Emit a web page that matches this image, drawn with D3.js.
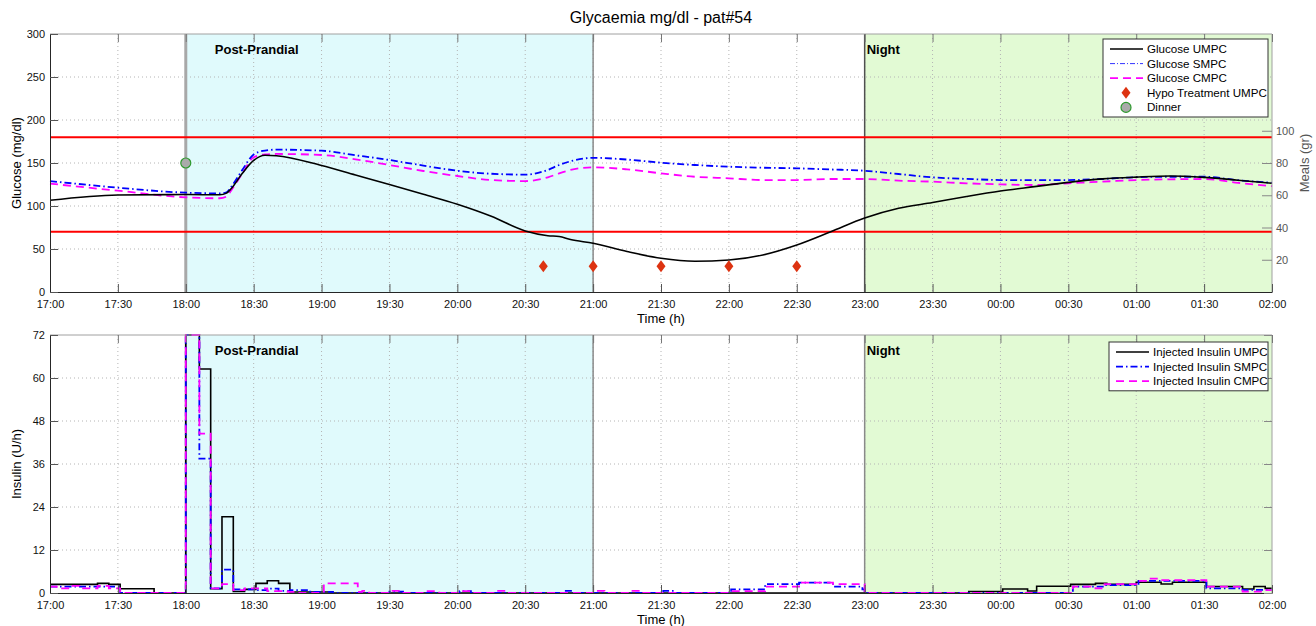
<!DOCTYPE html>
<html>
<head>
<meta charset="utf-8">
<script src="https://cdn.jsdelivr.net/npm/d3@7"></script>
<style>
  body { margin: 0; background: #fff; }
  text { font-family: Arial, "Liberation Sans", sans-serif; }
</style>
</head>
<body>
<div id="chart"></div>

<script type="text/javascript">
// minutes after 17:00
var tickMinutes = [0, 30, 60, 90, 120, 150, 180, 210, 240, 270, 300, 330, 360, 390, 420, 450, 480, 510, 540];
var tickLabels = ["17:00","17:30","18:00","18:30","19:00","19:30","20:00","20:30","21:00","21:30",
                  "22:00","22:30","23:00","23:30","00:00","00:30","01:00","01:30","02:00"];

var glucoseTicks = [0, 50, 100, 150, 200, 250, 300];
var mealTicks = [20, 40, 60, 80, 100];
var insulinTicks = [0, 12, 24, 36, 48, 60, 72];

// glucose curves (mg/dl)
var glucoseTime = [0,30,60,75,78,80,85,90,95,100,120,135,150,165,180,195,210,220,225,230,240,255,270,285,300,315,330,345,360,375,390,405,420,435,450,465,480,495,510,525,540];
var glucoseUMPC = [106.6,112.8,113.3,113,115,120,138,153,159,158.5,147,136,125,113.6,102,88,71,65.5,64.5,61,56.6,47,39.2,35.7,37.2,43,54.6,70,86,97.3,104,111,117.4,122.5,127.5,131.5,133.6,134.9,133.3,130,126.4];
var glucoseSMPC = [129,121.3,115.5,114.7,116,122,142,160,164.5,165.5,164.3,159,153.5,147,141,137.5,136.5,142,147.7,152,156,154,150.4,147.7,145.7,144.5,143.8,142.5,141,137.2,133.3,131.5,130.2,130,130.2,131.4,133.5,134,134,130,127];
var glucoseCMPC = [126,117.8,110,109,111,117.8,138,156.6,160,160.5,159.3,154.3,147.7,140.7,134.9,130.2,129,133.3,138,141.9,145,142.6,138,134,132.2,130.2,130.2,131.4,131.4,129.5,128.3,126.4,125.2,124.4,126.4,128.3,130.2,131,131.4,127,123];

// meals (gr)
var dinnerTime = [60];
var dinnerGrams = [80];
var hypoTime = [218, 240, 270, 300, 330];
var hypoGrams = [16, 16, 16, 16, 16];

// injected insulin (U/h), step changes
var insulinTimeUMPC = [0,21,26,31,46,60,66,71,76,81,86,91,96,101,106,125,406,421,432,436,451,462,467,480,491,496,511,527,532,537,540];
var insulinUMPC     = [2.4,2.7,2.4,1.2,0,72,62.5,1.2,21.3,0.4,1.0,2.7,3.4,2.7,0.3,0,0.4,1.1,0.55,1.9,2.4,2.7,2.4,3.0,2.5,3.0,1.8,1.1,1.8,1.3,1.3];
var insulinTimeSMPC = [0,31,60,66,71,76,81,91,96,101,106,115,125,150,156,181,186,227,231,271,276,301,316,331,346,359,360,452,466,481,511,527,540];
var insulinSMPC     = [1.8,0,72,37.5,1.3,6.5,1.0,0.8,1.2,0.6,0.8,0.3,0,0.4,0,0.5,0,0.6,0,0.6,0,1.0,2.5,2.9,1.8,1.0,0,1.8,2.2,3.4,1.3,0.9,0.9];
var insulinTimeCMPC = [0,3,10,13,21,26,31,60,66,71,76,81,86,96,105,110,121,136,138,141,150,156,166,172,181,186,196,202,241,245,256,262,301,316,331,346,360,452,462,466,481,485,490,511,527,537,540];
var insulinCMPC     = [1.8,1.3,2.0,1.3,2.0,1.3,0,72,44.5,1.3,2.5,0.8,1.3,0.5,0.3,0,2.7,0.3,0.6,0,0.6,0,0.5,0,0.5,0,0.6,0,0.6,0,0.6,0,0.5,1.8,2.9,2.5,0,1.8,1.3,2.5,3.4,4.0,3.6,1.8,0.4,0.8,0.8];

var periods = [
  { name: "Post-Prandial", start: 60, end: 240, fill: "#e0fafc" },
  { name: "Night", start: 360, end: 540, fill: "#e2fad4" }
];

var svg = d3.select("#chart").append("svg")
  .attr("width", 1316)
  .attr("height", 626);

var left = 50, right = 1272;
var x = d3.scaleLinear().domain([0, 540]).range([left, right]);

var top1 = 34, bottom1 = 292;
var top2 = 335, bottom2 = 593;
var yGlucose = d3.scaleLinear().domain([0, 300]).range([bottom1, top1]);
var yMeals = d3.scaleLinear().domain([0, 160]).range([bottom1, top1]);
var yInsulin = d3.scaleLinear().domain([0, 72]).range([bottom2, top2]);

function zip(t, v) {
  return t.map(function (d, i) { return [d, v[i]]; });
}

function drawFrame(g, top, bottom, yScale, yTicks, vlines) {
  // shaded periods
  periods.forEach(function (p) {
    g.append("rect")
      .attr("x", x(p.start)).attr("y", top)
      .attr("width", x(p.end) - x(p.start)).attr("height", bottom - top)
      .attr("fill", p.fill);
  });

  // dotted grid
  g.selectAll(".vgrid").data(tickMinutes.slice(1, -1)).enter().append("line")
    .attr("x1", function (d) { return x(d); }).attr("x2", function (d) { return x(d); })
    .attr("y1", top).attr("y2", bottom)
    .attr("stroke", "#b4b4b4").attr("stroke-dasharray", "1,3");
  g.selectAll(".hgrid").data(yTicks.slice(1, -1)).enter().append("line")
    .attr("x1", left).attr("x2", right)
    .attr("y1", function (d) { return yScale(d); }).attr("y2", function (d) { return yScale(d); })
    .attr("stroke", "#b4b4b4").attr("stroke-dasharray", "1,3");

  // period borders
  vlines.forEach(function (v) {
    g.append("line")
      .attr("x1", x(v.t)).attr("x2", x(v.t))
      .attr("y1", top).attr("y2", bottom)
      .attr("stroke", v.color).attr("stroke-width", v.width);
  });

  // period names
  g.append("text").attr("x", x(60) + 29).attr("y", top + 20)
    .style("font-size", "13px").style("font-weight", "bold").text("Post-Prandial");
  g.append("text").attr("x", x(360) + 2).attr("y", top + 20)
    .style("font-size", "13px").style("font-weight", "bold").text("Night");
}

function drawAxes(g, top, bottom, yScale, yTicks, yLabel) {
  // box
  g.append("line").attr("x1", left).attr("x2", right).attr("y1", top).attr("y2", top)
    .attr("stroke", "#a0a0a0");
  g.append("line").attr("x1", right).attr("x2", right).attr("y1", top).attr("y2", bottom)
    .attr("stroke", "#a0a0a0");

  var xb = g.append("g").attr("transform", "translate(0," + bottom + ")")
    .call(d3.axisBottom(x).tickValues(tickMinutes)
      .tickFormat(function (d, i) { return tickLabels[i]; })
      .tickSizeInner(-8).tickSizeOuter(0).tickPadding(8));
  var xt = g.append("g").attr("transform", "translate(0," + top + ")")
    .call(d3.axisTop(x).tickValues(tickMinutes).tickFormat("")
      .tickSizeInner(-8).tickSizeOuter(0));
  var yl = g.append("g").attr("transform", "translate(" + left + ",0)")
    .call(d3.axisLeft(yScale).tickValues(yTicks).tickSizeInner(-8).tickSizeOuter(0).tickPadding(5));

  [xb, yl].forEach(function (a) {
    a.select(".domain").attr("stroke", "#262626");
    a.selectAll(".tick line").attr("stroke", "#555");
    a.selectAll("text").style("font-size", "11px").attr("fill", "#111");
  });
  xt.select(".domain").remove();
  xt.selectAll(".tick line").attr("stroke", "#777");

  g.append("text")
    .attr("x", (left + right) / 2).attr("y", bottom + 31)
    .attr("text-anchor", "middle").style("font-size", "13px").text("Time (h)");
  g.append("text")
    .attr("transform", "translate(21," + ((top + bottom) / 2) + ") rotate(-90)")
    .attr("text-anchor", "middle").style("font-size", "13px").text(yLabel);
}

function drawLegend(g, x0, y0, w, entries) {
  g.append("rect").attr("x", x0).attr("y", y0).attr("width", w)
    .attr("height", entries.length * 14.6 + 5)
    .attr("fill", "#fff").attr("stroke", "#333").attr("stroke-width", 1);
  entries.forEach(function (e, i) {
    var cy = y0 + 10 + i * 14.6;
    if (e.line) {
      g.append("line").attr("x1", x0 + 7).attr("x2", x0 + 40)
        .attr("y1", cy).attr("y2", cy)
        .attr("stroke", e.color).attr("stroke-width", e.width)
        .attr("stroke-dasharray", e.dash);
    } else if (e.marker === "diamond") {
      g.append("path").attr("transform", "translate(" + (x0 + 23) + "," + cy + ")")
        .attr("d", "M0,-6L4.5,0L0,6L-4.5,0Z").attr("fill", "#dd3311");
    } else {
      g.append("circle").attr("cx", x0 + 23).attr("cy", cy).attr("r", 5)
        .attr("fill", "#aaa").attr("stroke", "#2e9a2e").attr("stroke-width", 1.2);
    }
    g.append("text").attr("x", x0 + 44).attr("y", cy + 4)
      .style("font-size", "11.6px").text(e.label);
  });
}

var styles = {
  U: { color: "#000", width: 1.6, dash: null },
  S: { color: "#0000ff", width: 1.8, dash: "7,3,1.5,3" },
  C: { color: "#ff00ff", width: 1.8, dash: "8,5" }
};

// ---------- top: glucose ----------
var g1 = svg.append("g");
drawFrame(g1, top1, bottom1, yGlucose, glucoseTicks, [
  { t: 60, color: "#a8a8a8", width: 3 },
  { t: 240, color: "#8a8a8a", width: 1.5 },
  { t: 360, color: "#505050", width: 1.5 }
]);

[180, 70].forEach(function (lim) {
  g1.append("line").attr("x1", left).attr("x2", right)
    .attr("y1", yGlucose(lim)).attr("y2", yGlucose(lim))
    .attr("stroke", "#ff0000").attr("stroke-width", 2);
});

var glucoseLine = d3.line()
  .x(function (d) { return x(d[0]); })
  .y(function (d) { return yGlucose(d[1]); })
  .curve(d3.curveMonotoneX);

[["C", glucoseCMPC], ["S", glucoseSMPC], ["U", glucoseUMPC]].forEach(function (s) {
  var st = styles[s[0]];
  g1.append("path").datum(zip(glucoseTime, s[1]))
    .attr("d", glucoseLine).attr("fill", "none")
    .attr("stroke", st.color).attr("stroke-width", st.width)
    .attr("stroke-dasharray", st.dash);
});

g1.selectAll(".hypo").data(zip(hypoTime, hypoGrams)).enter().append("path")
  .attr("transform", function (d) { return "translate(" + x(d[0]) + "," + yMeals(d[1]) + ")"; })
  .attr("d", "M0,-6L4.5,0L0,6L-4.5,0Z").attr("fill", "#dd3311");
g1.selectAll(".dinner").data(zip(dinnerTime, dinnerGrams)).enter().append("circle")
  .attr("cx", function (d) { return x(d[0]); }).attr("cy", function (d) { return yMeals(d[1]); })
  .attr("r", 5).attr("fill", "#aaa").attr("stroke", "#2e9a2e").attr("stroke-width", 1.2);

drawAxes(g1, top1, bottom1, yGlucose, glucoseTicks, "Glucose (mg/dl)");

// right axis: meals
var yr = g1.append("g").attr("transform", "translate(" + right + ",0)")
  .call(d3.axisRight(yMeals).tickValues(mealTicks).tickSizeInner(-10).tickSizeOuter(0).tickPadding(4));
yr.select(".domain").remove();
yr.selectAll(".tick line").attr("stroke", "#888");
yr.selectAll("text").style("font-size", "11px").attr("fill", "#555");
g1.append("text")
  .attr("transform", "translate(1309," + yMeals(80) + ") rotate(-90)")
  .attr("text-anchor", "middle").style("font-size", "13px").attr("fill", "#555").text("Meals (gr)");

g1.append("text").attr("x", (left + right) / 2).attr("y", 23)
  .attr("text-anchor", "middle").style("font-size", "16px").text("Glycaemia mg/dl - pat#54");

drawLegend(g1, 1103, 39, 165, [
  { line: true, color: "#000", width: 1.6, dash: null, label: "Glucose UMPC" },
  { line: true, color: "#3333ff", width: 1, dash: "5,2,1,2", label: "Glucose SMPC" },
  { line: true, color: "#ff00ff", width: 1.8, dash: "8,5", label: "Glucose CMPC" },
  { marker: "diamond", label: "Hypo Treatment UMPC" },
  { marker: "circle", label: "Dinner" }
]);

// ---------- bottom: insulin ----------
var g2 = svg.append("g");
drawFrame(g2, top2, bottom2, yInsulin, insulinTicks, [
  { t: 60, color: "#a8a8a8", width: 2 },
  { t: 240, color: "#8a8a8a", width: 1.5 },
  { t: 360, color: "#8a8a8a", width: 1.5 }
]);

var insulinLine = d3.line()
  .x(function (d) { return x(d[0]); })
  .y(function (d) { return yInsulin(d[1]); })
  .curve(d3.curveStepAfter);

[["U", insulinTimeUMPC, insulinUMPC], ["S", insulinTimeSMPC, insulinSMPC], ["C", insulinTimeCMPC, insulinCMPC]].forEach(function (s) {
  var st = styles[s[0]];
  g2.append("path").datum(zip(s[1], s[2]))
    .attr("d", insulinLine).attr("fill", "none")
    .attr("stroke", st.color).attr("stroke-width", st.width)
    .attr("stroke-dasharray", st.dash);
});

drawAxes(g2, top2, bottom2, yInsulin, insulinTicks, "Insulin (U/h)");
// mirrored ticks on the right
var yr2 = g2.append("g").attr("transform", "translate(" + right + ",0)")
  .call(d3.axisRight(yInsulin).tickValues(insulinTicks).tickSizeInner(-8).tickSizeOuter(0).tickFormat(""));
yr2.select(".domain").remove();
yr2.selectAll(".tick line").attr("stroke", "#888");

drawLegend(g2, 1109, 342, 159, [
  { line: true, color: "#000", width: 1.6, dash: null, label: "Injected Insulin UMPC" },
  { line: true, color: "#0000ff", width: 1.8, dash: "7,3,1.5,3", label: "Injected Insulin SMPC" },
  { line: true, color: "#ff00ff", width: 1.8, dash: "8,5", label: "Injected Insulin CMPC" }
]);
</script>
</body>
</html>
